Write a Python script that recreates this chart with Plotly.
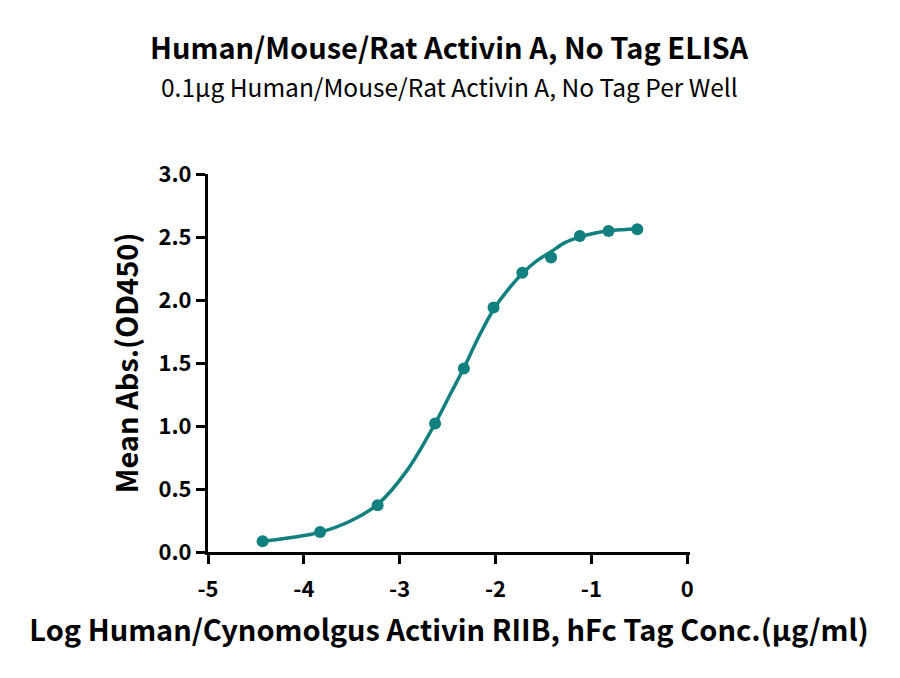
import plotly.graph_objects as go

# measured points (log conc. vs mean OD450)
log_conc = [-4.43, -3.83, -3.23, -2.63, -2.33, -2.02, -1.72, -1.42, -1.12, -0.82, -0.52]
mean_abs = [0.085, 0.159, 0.371, 1.02, 1.457, 1.941, 2.216, 2.338, 2.508, 2.547, 2.561]

# fitted curve
fit_x = [-4.43, -4.13, -3.83, -3.53, -3.23, -2.93, -2.63, -2.48, -2.33, -2.18, -2.02,
         -1.87, -1.72, -1.57, -1.42, -1.27, -1.12, -0.97, -0.82, -0.67, -0.52]
fit_y = [0.085, 0.115, 0.157, 0.24, 0.378, 0.64, 1.02, 1.24, 1.46, 1.70, 1.925,
         2.08, 2.21, 2.31, 2.383, 2.457, 2.50, 2.53, 2.548, 2.558, 2.565]

x_ticks = [-5, -4, -3, -2, -1, 0]
y_ticks = [0.0, 0.5, 1.0, 1.5, 2.0, 2.5, 3.0]

teal = "#11807f"
font = "Noto Sans CJK SC"

fig = go.Figure()
fig.add_trace(go.Scatter(x=fit_x, y=fit_y, mode="lines", line_shape="spline",
                         line=dict(color=teal, width=3.5), hoverinfo="skip"))
fig.add_trace(go.Scatter(x=log_conc, y=mean_abs, mode="markers",
                         marker=dict(color=teal, size=12)))

axis_style = dict(showline=True, linecolor="black", linewidth=3, ticks="outside",
                  ticklen=9, tickwidth=3, tickcolor="black", showgrid=False,
                  zeroline=False, tickfont=dict(family=font, size=22, color="black",
                                                weight="bold"))

fig.update_xaxes(range=[-5, 0.03], tickvals=x_ticks, ticktext=[str(v) for v in x_ticks],
                 ticklabelstandoff=7,
                 title=dict(text="Log Human/Cynomolgus Activin RIIB, hFc Tag Conc.(µg/ml)",
                            font=dict(family=font, size=29, color="black", weight="bold"),
                            standoff=19),
                 **axis_style)
fig.update_yaxes(range=[0, 3.0], tickvals=y_ticks, ticktext=["%.1f" % v for v in y_ticks],
                 title=dict(text="Mean Abs.(OD450)",
                            font=dict(family=font, size=29, color="black", weight="bold"),
                            standoff=12),
                 **axis_style)

fig.add_annotation(text="<b>Human/Mouse/Rat Activin A, No Tag ELISA</b>",
                   xref="paper", yref="paper", x=0.5, y=1.338, showarrow=False,
                   xanchor="center", yanchor="middle",
                   font=dict(family=font, size=29, color="black"))
fig.add_annotation(text="0.1µg Human/Mouse/Rat Activin A, No Tag Per Well",
                   xref="paper", yref="paper", x=0.5, y=1.232, showarrow=False,
                   xanchor="center", yanchor="middle",
                   font=dict(family=font, size=24.5, color="black"))

fig.update_layout(width=900, height=678, showlegend=False,
                  margin=dict(l=200, r=218, t=166, b=134),
                  plot_bgcolor="white", paper_bgcolor="white")

fig.write_html("out.html")
